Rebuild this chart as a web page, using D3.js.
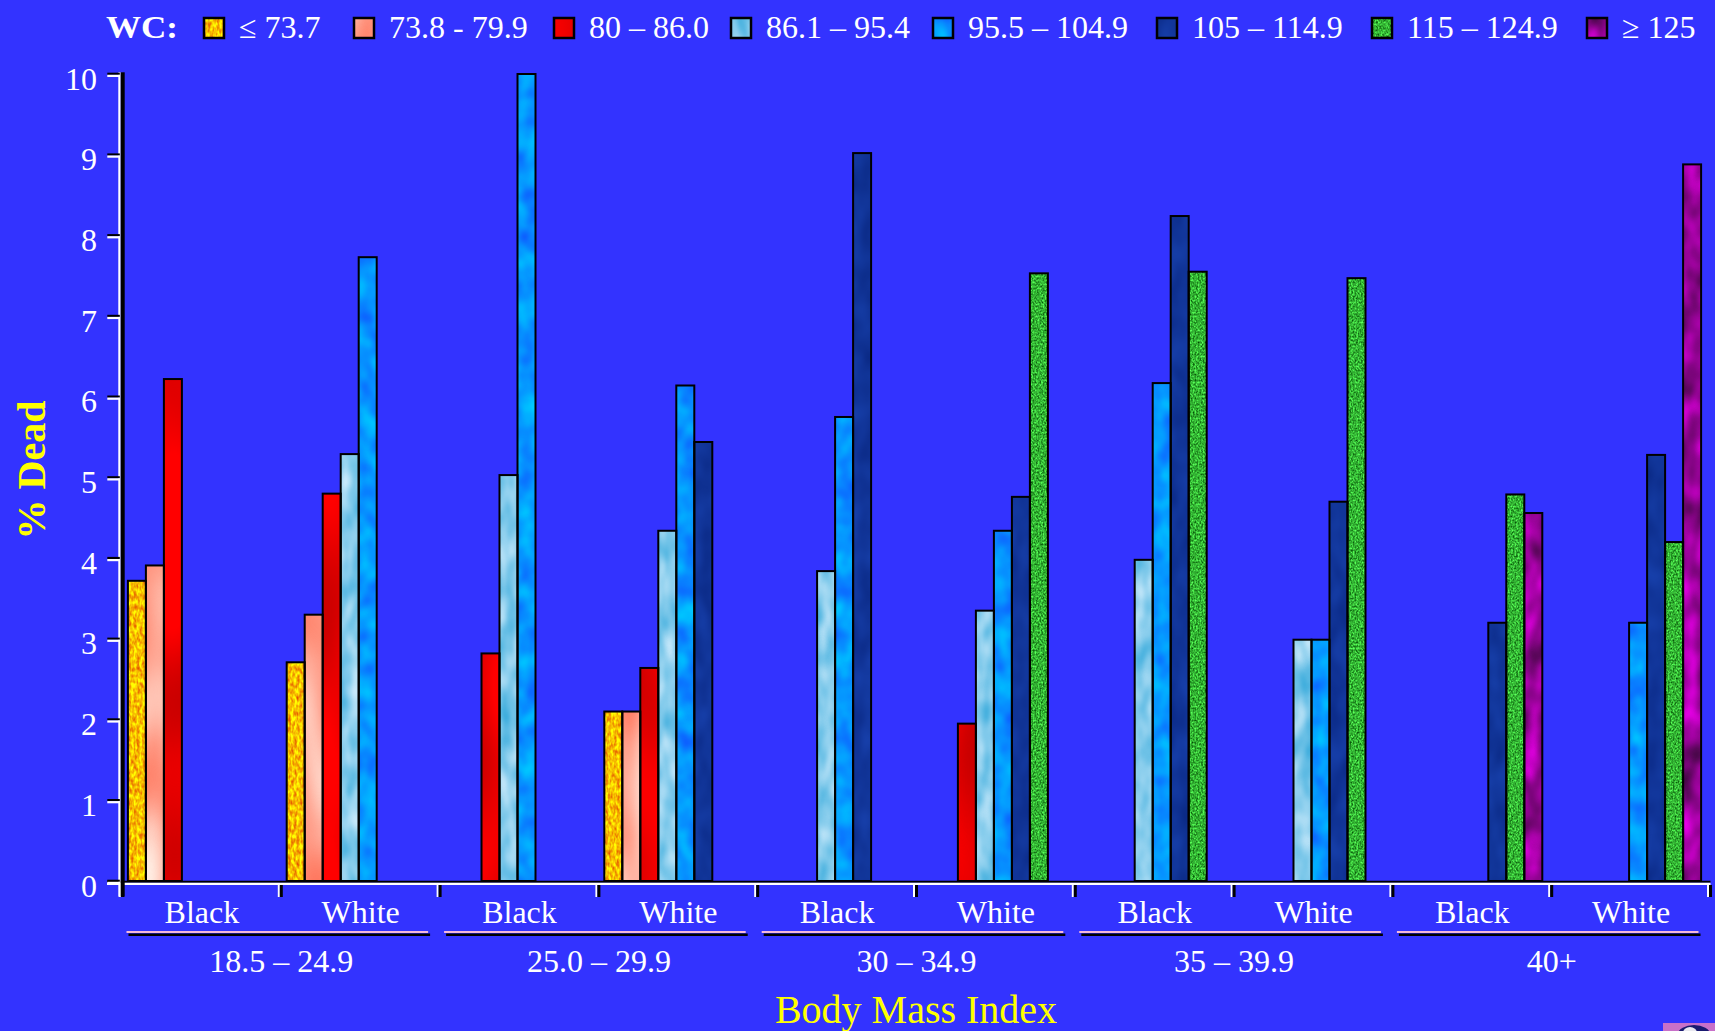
<!DOCTYPE html>
<html>
<head>
<meta charset="utf-8">
<script src="https://cdn.jsdelivr.net/npm/d3@7"></script>
<style>
  html, body { margin: 0; padding: 0; background: #3333FF; }
  svg { display: block; }
  text { font-family: "Liberation Serif", "Times New Roman", serif; }
</style>
</head>
<body>
<svg id="chart" width="1715" height="1031"></svg>
<script>
// ---------------- DATA ----------------
const bmiCategories = ["18.5 – 24.9", "25.0 – 29.9", "30 – 34.9", "35 – 39.9", "40+"];
const races = ["Black", "White"];
const wcLabels = ["≤ 73.7", "73.8 - 79.9", "80 – 86.0", "86.1 – 95.4", "95.5 – 104.9", "105 – 114.9", "115 – 124.9", "≥ 125"];
const yTicks = [0, 1, 2, 3, 4, 5, 6, 7, 8, 9, 10];

// % dead per WC category, across groups (BMI × race): B1,W1,B2,W2,B3,W3,B4,W4,B5,W5
const wc1 = [3.72, 2.71, null, 2.10, null, null, null, null, null, null];
const wc2 = [3.91, 3.30, null, 2.10, null, null, null, null, null, null];
const wc3 = [6.22, 4.80, 2.82, 2.64, null, 1.95, null, null, null, null];
const wc4 = [null, 5.29, 5.03, 4.34, 3.84, 3.35, 3.98, 2.99, null, null];
const wc5 = [null, 7.73, 10.0, 6.14, 5.75, 4.34, 6.17, 2.99, null, 3.20];
const wc6 = [null, null, null, 5.44, 9.02, 4.76, 8.24, 4.70, 3.20, 5.28];
const wc7 = [null, null, null, null, null, 7.53, 7.55, 7.47, 4.79, 4.20];
const wc8 = [null, null, null, null, null, null, null, null, 4.56, 8.88];
const seriesValues = [wc1, wc2, wc3, wc4, wc5, wc6, wc7, wc8];

// texture colours per WC category: [dark, light, baseFrequency, octaves, gain]
const textures = [
  ["#EE8C00", "#FFF000", "0.35 0.18", 2, 3.0],
  ["#FF8068", "#FFD0C2", "0.03 0.012", 1, 2.6],
  ["#D80000", "#FF0000", "0.02 0.008", 1, 4.0],
  ["#58B8E2", "#B4E0F6", "0.06 0.03", 2, 2.0],
  ["#0A74FF", "#00BCFF", "0.05 0.04", 2, 2.0],
  ["#0C2C8A", "#163EA8", "0.05 0.03", 2, 1.6],
  ["#1E861E", "#48E048", "0.6 0.5", 2, 3.2],
  ["#600660", "#C800C8", "0.05 0.03", 2, 2.2]
];

// legend layout (left edges of the swatches)
const legendSwatchX = [204, 354, 554, 731, 933, 1157, 1372, 1587];

// ---------------- BUILD ----------------
const svg = d3.select("#chart");
const W = 1715, H = 1031;
svg.append("rect").attr("width", W).attr("height", H).attr("fill", "#3333FF");

const defs = svg.append("defs");
function hexToRgb(h) { const c = d3.rgb(h); return [c.r / 255, c.g / 255, c.b / 255]; }
textures.forEach((t, i) => {
  const [c1, c2, freq, oct, g] = t;
  const a = hexToRgb(c1), b = hexToRgb(c2);
  const rows = [0, 1, 2].map(k => {
    const d = b[k] - a[k];
    return `${d * g} 0 0 0 ${a[k] + d * (0.5 - 0.5 * g)}`;
  });
  const f = defs.append("filter").attr("id", "tex" + i)
    .attr("x", 0).attr("y", 0).attr("width", 1).attr("height", 1)
    .attr("color-interpolation-filters", "sRGB");
  f.append("feTurbulence").attr("type", "fractalNoise").attr("baseFrequency", freq)
    .attr("numOctaves", oct).attr("seed", 3 + i * 7).attr("result", "n");
  f.append("feColorMatrix").attr("in", "n").attr("type", "matrix")
    .attr("values", rows.join(" ") + " 0 0 0 0 1").attr("result", "c");
  f.append("feComposite").attr("in", "c").attr("in2", "SourceAlpha").attr("operator", "in");
});

// scales
const groupKeys = [];
bmiCategories.forEach((b, bi) => races.forEach((r, ri) => groupKeys.push(bi * 2 + ri)));
const x0 = d3.scaleBand().domain(groupKeys).range([120.5, 1708.5]).padding(0);
const x1 = d3.scaleBand().domain(d3.range(wcLabels.length)).range([7.4, x0.bandwidth() - 7.4]).padding(0);
const y = d3.scaleLinear().domain([0, 10]).range([881, 74]);

// bars
const barData = [];
seriesValues.forEach((arr, s) => arr.forEach((v, g) => { if (v != null) barData.push({ s, g, v }); }));

const barsG = svg.append("g");
barsG.selectAll("rect.fill").data(barData).join("rect")
  .attr("class", "fill")
  .attr("x", d => x0(d.g) + x1(d.s))
  .attr("y", d => y(d.v))
  .attr("width", x1.bandwidth())
  .attr("height", d => y(0) - y(d.v))
  .attr("fill", d => textures[d.s][0])
  .attr("filter", d => `url(#tex${d.s})`);
barsG.selectAll("rect.outline").data(barData).join("rect")
  .attr("class", "outline")
  .attr("x", d => x0(d.g) + x1(d.s))
  .attr("y", d => y(d.v))
  .attr("width", x1.bandwidth())
  .attr("height", d => y(0) - y(d.v))
  .attr("fill", "none")
  .attr("stroke", "#000")
  .attr("stroke-width", 2);

// ---------------- AXES ----------------
const axisG = svg.append("g");
const xLeft = 107, xRight = x0.range()[1] + 2;
axisG.append("line").attr("x1", xLeft).attr("x2", xRight).attr("y1", y(0) + 0.8).attr("y2", y(0) + 0.8)
  .attr("stroke", "#000").attr("stroke-width", 2);
axisG.append("line").attr("x1", xLeft).attr("x2", xRight).attr("y1", y(0) + 2.9).attr("y2", y(0) + 2.9)
  .attr("stroke", "#fff").attr("stroke-width", 2.2);

// group separators (below axis)
const bounds = groupKeys.map(g => x0(g)).concat([x0.range()[1]]);
bounds.forEach(b => {
  axisG.append("rect").attr("x", b - 1.5).attr("y", y(0) + 4).attr("width", 2).attr("height", 12).attr("fill", "#fff");
  axisG.append("rect").attr("x", b + 0.5).attr("y", y(0) + 4).attr("width", 3).attr("height", 12).attr("fill", "#000");
});

// y axis line: white with black shadow
axisG.append("rect").attr("x", 118.3).attr("y", 72.3).attr("width", 2.4).attr("height", 896.7 - 72.3).attr("fill", "#fff");
axisG.append("rect").attr("x", 120.7).attr("y", 72.3).attr("width", 4).attr("height", 896.7 - 72.3).attr("fill", "#000");

// y ticks
const tickG = axisG.selectAll("g.ytick").data(yTicks).join("g").attr("class", "ytick");
tickG.append("rect").attr("x", 107.3).attr("y", d => y(d) - 1.3).attr("width", 12.5).attr("height", 2.1).attr("fill", "#000");
tickG.append("rect").attr("x", 107.3).attr("y", d => y(d) + 0.8).attr("width", 12.5).attr("height", 2.2).attr("fill", "#fff");
tickG.append("text").attr("x", 97).attr("y", d => y(d) + 15.5)
  .attr("text-anchor", "end").attr("fill", "#fff").attr("font-size", 32).text(d => d);

// race labels
svg.append("g").selectAll("text").data(groupKeys).join("text")
  .attr("x", g => x0(g) + x0.bandwidth() / 2 + 2)
  .attr("y", 922.7)
  .attr("text-anchor", "middle").attr("fill", "#fff").attr("font-size", 32)
  .text(g => races[g % 2]);

// BMI underlines and labels
const bmiG = svg.append("g");
bmiCategories.forEach((b, bi) => {
  const xs = x0(bi * 2), xe = x0(bi * 2 + 1) + x0.bandwidth();
  bmiG.append("line").attr("x1", xs + 8).attr("x2", xe - 8).attr("y1", 934.8).attr("y2", 934.8)
    .attr("stroke", "#000").attr("stroke-width", 2.6);
  bmiG.append("line").attr("x1", xs + 6).attr("x2", xe - 10).attr("y1", 932).attr("y2", 932)
    .attr("stroke", "#F4B8DC").attr("stroke-width", 2);
  bmiG.append("text").attr("x", (xs + xe) / 2 + 2).attr("y", 971.5)
    .attr("text-anchor", "middle").attr("fill", "#fff").attr("font-size", 32).text(b);
});

// axis titles
svg.append("text").attr("x", 916).attr("y", 1023)
  .attr("text-anchor", "middle").attr("fill", "#FFFF00").attr("font-size", 40).text("Body Mass Index");
svg.append("text").attr("transform", "translate(45,470) rotate(-90)")
  .attr("text-anchor", "middle").attr("fill", "#FFFF00").attr("font-size", 40).attr("font-weight", "bold")
  .text("% Dead");

// ---------------- LEGEND ----------------
const legG = svg.append("g");
legG.append("text").attr("x", 106).attr("y", 38).attr("fill", "#fff").attr("font-size", 32)
  .attr("font-weight", "bold").attr("textLength", 72).attr("lengthAdjust", "spacingAndGlyphs").text("WC:");
wcLabels.forEach((lab, i) => {
  const lx = legendSwatchX[i];
  legG.append("rect").attr("x", lx).attr("y", 18).attr("width", 20).attr("height", 20)
    .attr("fill", textures[i][0]).attr("filter", `url(#tex${i})`);
  legG.append("rect").attr("x", lx).attr("y", 18).attr("width", 20).attr("height", 20)
    .attr("fill", "none").attr("stroke", "#000").attr("stroke-width", 2.5);
  legG.append("text").attr("x", lx + 35).attr("y", 38).attr("fill", "#fff").attr("font-size", 32).text(lab);
});

// small corner logo (partially visible)
const logo = svg.append("g");
logo.append("rect").attr("x", 1663).attr("y", 1023).attr("width", 52).attr("height", 8).attr("fill", "#C870C8");
logo.append("ellipse").attr("cx", 1694).attr("cy", 1034).attr("rx", 16).attr("ry", 9).attr("fill", "#1A1A70");
logo.append("ellipse").attr("cx", 1690).attr("cy", 1033).attr("rx", 7).attr("ry", 6).attr("fill", "#E8E8F0");
</script>
</body>
</html>
